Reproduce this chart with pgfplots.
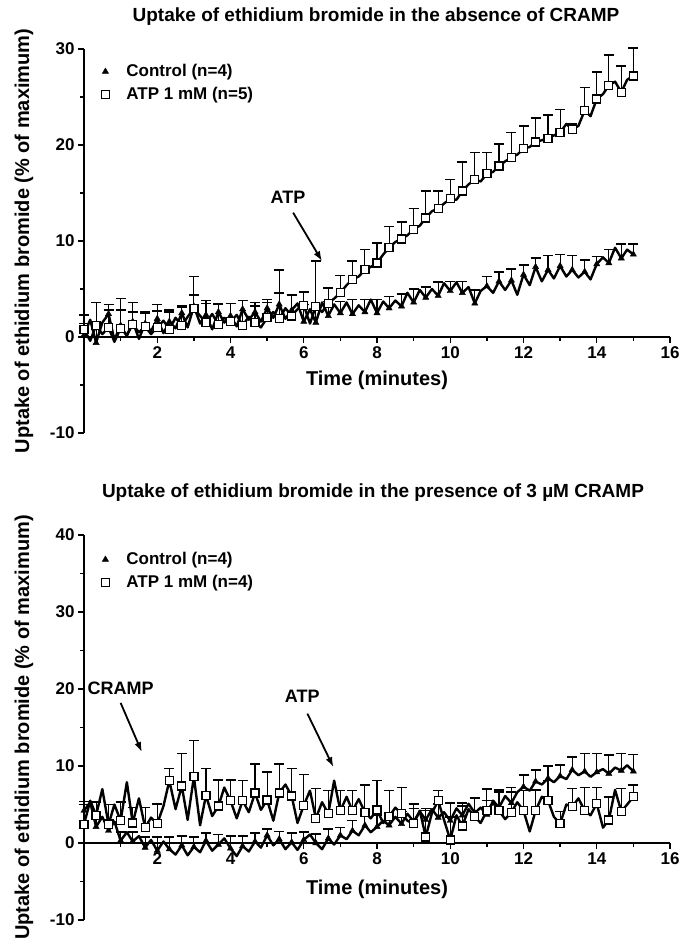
\documentclass[border=0pt]{standalone}
\usepackage{fontspec}
\setmainfont{Liberation Sans}
\usepackage{pgfplots}
\usepackage{pgfplotstable}
\pgfplotsset{compat=1.18}
\usetikzlibrary{arrows.meta}

\pgfplotstableread{
t v e
0.00 0.2 1.2
0.17 1.8 0
0.33 -0.6 1.8
0.50 1.5 0
0.67 2.4 1.0
0.83 -0.3 0
1.00 1.2 1.6
1.17 0.1 0
1.33 1.6 1.0
1.50 -0.2 0
1.67 1.4 1.2
1.83 0.6 0
2.00 1.9 0.8
2.17 0.4 0
2.33 1.6 1.0
2.50 0.9 0
2.67 2.5 0.8
2.83 1.0 0
3.00 3.2 1.2
3.17 1.4 0
3.33 2.3 1.2
3.50 0.8 0
3.67 2.6 0.8
3.83 1.5 0
4.00 2.2 1.3
4.17 1.1 0
4.33 2.9 0.9
4.50 1.8 0
4.67 2.6 1.0
4.83 1.6 0
5.00 3.0 0.9
5.17 2.0 0
5.33 3.4 1.2
5.50 1.9 0
5.67 2.8 1.6
5.83 3.5 0
6.00 1.6 1.8
6.17 2.9 0
6.33 1.5 1.4
6.50 3.6 0
6.67 2.2 1.5
6.83 3.4 0
7.00 2.5 1.2
7.17 3.6 0
7.33 2.4 1.5
7.50 3.3 0
7.67 2.6 1.3
7.83 3.9 0
8.00 2.5 1.4
8.17 3.7 0
8.33 3.0 1.2
8.50 3.8 0
8.67 3.2 1.3
8.83 4.6 0
9.00 3.6 1.4
9.17 4.9 0
9.33 4.1 1.1
9.50 5.0 0
9.67 4.3 1.4
9.83 5.6 0
10.00 4.8 1.0
10.17 5.7 0
10.33 4.6 1.2
10.50 5.2 0
10.67 3.5 1.4
10.83 4.8 0
11.00 5.3 1.0
11.17 4.6 0
11.33 5.8 1.0
11.50 4.9 0
11.67 5.9 1.2
11.83 4.4 0
12.00 6.5 1.0
12.17 5.4 0
12.33 7.3 0.9
12.50 5.8 0
12.67 7.0 1.5
12.83 6.1 0
13.00 7.4 1.2
13.17 6.3 0
13.33 7.0 1.5
13.50 6.2 0
13.67 6.8 1.2
13.83 6.0 0
14.00 7.6 0.8
14.17 8.3 0
14.33 7.7 1.4
14.50 9.3 0
14.67 8.2 1.5
14.83 9.1 0
15.00 8.6 1.1
}\topCtrl

\pgfplotstableread{
t v e
0.00 0.8 1.5
0.17 -0.4 0
0.33 1.2 2.4
0.50 0.3 0
0.67 1.0 1.8
0.83 -0.5 0
1.00 0.9 3.1
1.17 0.2 0
1.33 1.3 2.3
1.50 0.5 0
1.67 1.1 1.4
1.83 0.3 0
2.00 1.0 2.4
2.17 1.7 0
2.33 0.8 2.0
2.50 2.0 0
2.67 1.2 1.9
2.83 2.1 0
3.00 3.0 3.3
3.17 2.2 0
3.33 1.5 2.3
3.50 2.4 0
3.67 1.3 2.2
3.83 2.0 0
4.00 1.6 1.9
4.17 2.3 0
4.33 1.2 2.6
4.50 2.1 0
4.67 1.5 1.7
4.83 1.0 0
5.00 2.0 1.6
5.17 2.6 0
5.33 1.9 5.1
5.50 3.0 0
5.67 2.2 2.2
5.83 2.9 0
6.00 3.3 1.4
6.17 1.4 0
6.33 3.2 4.7
6.50 2.6 0
6.67 3.5 1.6
6.83 4.0 0
7.00 4.6 1.8
7.17 5.4 0
7.33 6.0 1.9
7.50 6.3 0
7.67 7.0 2.1
7.83 7.3 0
8.00 7.7 2.1
8.17 8.6 0
8.33 9.3 2.2
8.50 9.9 0
8.67 10.2 1.8
8.83 10.6 0
9.00 11.2 2.2
9.17 11.6 0
9.33 12.4 2.8
9.50 13.1 0
9.67 13.4 1.8
9.83 13.9 0
10.00 14.4 2.0
10.17 14.3 0
10.33 15.2 3.0
10.50 15.9 0
10.67 16.4 2.8
10.83 16.2 0
11.00 17.0 2.2
11.17 17.2 0
11.33 17.8 2.3
11.50 18.3 0
11.67 18.7 2.6
11.83 19.0 0
12.00 19.6 2.4
12.17 19.8 0
12.33 20.3 2.5
12.50 20.5 0
12.67 20.7 2.4
12.83 21.0 0
13.00 21.3 2.4
13.17 22.2 0
13.33 21.6 0.6
13.50 22.0 0
13.67 23.6 2.4
13.83 23.0 0
14.00 24.8 2.8
14.17 25.3 0
14.33 26.2 3.2
14.50 26.6 0
14.67 25.5 2.7
14.83 26.8 0
15.00 27.2 2.9
}\topATP

\pgfplotstableread{
t v e
0.00 4.2 1.2
0.17 5.3 0
0.33 2.1 1.5
0.50 3.4 0
0.67 1.6 1.4
0.83 2.8 0
1.00 0.3 1.1
1.17 1.4 0
1.33 0.2 1.2
1.50 0.9 0
1.67 -0.6 1.4
1.83 0.4 0
2.00 -1.0 1.8
2.17 0.2 0
2.33 -0.8 1.6
2.50 -1.5 0
2.67 -0.3 1.2
2.83 -1.6 0
3.00 -0.5 1.3
3.17 -1.2 0
3.33 0.3 1.0
3.50 -1.0 0
3.67 -0.2 1.3
3.83 0.6 0
4.00 -0.7 1.6
4.17 -1.7 0
4.33 -0.4 1.3
4.50 -1.1 0
4.67 0.2 1.1
4.83 -0.6 0
5.00 1.0 0.8
5.17 -0.3 0
5.33 0.5 1.0
5.50 -0.8 0
5.67 0.1 1.2
5.83 -0.9 0
6.00 0.4 1.0
6.17 1.1 0
6.33 0.0 1.2
6.50 -0.8 0
6.67 0.6 1.2
6.83 -0.2 0
7.00 1.0 1.0
7.17 0.5 0
7.33 1.6 1.3
7.50 1.0 0
7.67 2.3 1.2
7.83 1.4 0
8.00 2.1 1.5
8.17 2.9 0
8.33 2.3 1.4
8.50 3.4 0
8.67 2.5 1.6
8.83 3.8 0
9.00 2.8 1.7
9.17 4.1 0
9.33 3.0 1.5
9.50 4.4 0
9.67 3.3 1.8
9.83 4.0 0
10.00 2.9 2.3
10.17 4.5 0
10.33 3.6 1.6
10.50 5.1 0
10.67 3.9 2.0
10.83 4.6 0
11.00 3.7 1.8
11.17 5.5 0
11.33 4.6 2.0
11.50 6.1 0
11.67 5.2 2.0
11.83 6.6 0
12.00 7.3 1.5
12.17 6.8 0
12.33 8.0 1.5
12.50 7.6 0
12.67 8.4 1.6
12.83 7.9 0
13.00 8.7 1.4
13.17 8.3 0
13.33 9.5 1.7
13.50 8.8 0
13.67 9.3 2.3
13.83 8.6 0
14.00 9.2 2.4
14.17 9.6 0
14.33 9.0 2.4
14.50 9.8 0
14.67 9.4 2.2
14.83 10.1 0
15.00 9.3 2.2
}\botCtrl

\pgfplotstableread{
t v e
0.00 2.4 2.6
0.17 5.5 0
0.33 3.6 1.7
0.50 7.0 0
0.67 2.4 2.6
0.83 5.0 0
1.00 2.9 2.4
1.17 7.9 0
1.33 2.6 2.0
1.50 5.8 0
1.67 2.0 2.6
1.83 3.3 0
2.00 2.5 2.6
2.17 4.8 0
2.33 8.1 1.6
2.50 4.4 0
2.67 7.4 4.2
2.83 3.0 0
3.00 8.6 4.7
3.17 2.3 0
3.33 6.2 3.5
3.50 3.5 0
3.67 4.8 3.4
3.83 7.2 0
4.00 5.5 2.7
4.17 3.2 0
4.33 5.5 2.6
4.50 4.0 0
4.67 6.5 3.8
4.83 4.3 0
5.00 5.6 3.6
5.17 2.9 0
5.33 6.5 3.8
5.50 7.6 0
5.67 6.1 3.6
5.83 2.6 0
6.00 4.9 4.0
6.17 6.8 0
6.33 3.2 3.9
6.50 5.3 0
6.67 3.8 3.0
6.83 8.1 0
7.00 4.2 2.6
7.17 6.0 0
7.33 4.2 2.6
7.50 5.7 0
7.67 4.0 3.5
7.83 3.2 0
8.00 4.3 3.8
8.17 2.6 0
8.33 3.4 3.4
8.50 4.6 0
8.67 3.8 3.4
8.83 2.9 0
9.00 2.5 2.6
9.17 4.2 0
9.33 0.8 3.4
9.50 3.9 0
9.67 5.5 1.3
9.83 3.0 0
10.00 0.4 3.0
10.17 3.6 0
10.33 2.2 2.6
10.50 4.4 0
10.67 3.4 2.4
10.83 2.6 0
11.00 4.2 2.8
11.17 5.2 0
11.33 4.2 2.7
11.50 3.1 0
11.67 4.0 2.6
11.83 5.3 0
12.00 4.2 2.6
12.17 1.5 0
12.33 4.2 2.7
12.50 6.0 0
12.67 5.5 2.6
12.83 3.4 0
13.00 2.5 1.6
13.17 5.0 0
13.33 4.7 2.4
13.50 5.8 0
13.67 4.2 3.0
13.83 3.6 0
14.00 5.1 2.1
14.17 2.0 0
14.33 3.0 3.0
14.50 6.9 0
14.67 4.1 3.0
14.83 5.0 0
15.00 6.0 1.5
}\botATP

\pgfplotsset{
  myaxis/.style={
    scale only axis, width=586pt,
    xmin=0, xmax=16, enlargelimits=false,
    axis x line=middle, axis y line=left,
    axis line style={-, line width=1.6pt},
    xtick={2,4,...,16}, minor xtick={1,3,...,15},
    tick align=outside,
    major tick length=6pt, minor tick length=4pt,
    tick style={black, line width=1.4pt},
    hide obscured x ticks=false, hide obscured y ticks=false,
    tick label style={font=\bfseries\fontsize{17}{20}\selectfont},
    /pgf/number format/assume math mode=true,
    xlabel={Time (minutes)},
    ylabel={Uptake of ethidium bromide (\% of maximum)},
    label style={font=\bfseries\fontsize{20}{24}\selectfont},
    ylabel style={at={(axis description cs:-0.1024,0.5)}, anchor=center},
    legend style={draw=none, fill=none, anchor=north west, inner sep=0pt,
      row sep=5pt, font=\bfseries\fontsize{17}{20}\selectfont,
      /tikz/every odd column/.append style={column sep=15pt}},
    legend cell align=left,
    clip=false,
  },
  ctrlline/.style={black, line width=2.4pt, line join=round, forget plot},
  ctrlmarks/.style={only marks, mark=triangle*, mark size=3.6pt, black,
    each nth point=2,
    error bars/.cd, y dir=plus, y explicit,
    error bar style={line width=1.1pt, black},
    error mark options={rotate=90, mark size=5pt, line width=1.6pt, black}},
  atpmarks/.style={only marks, mark=square*, mark size=4pt,
    mark options={fill=white, draw=black, line width=1.3pt}, black,
    each nth point=2,
    error bars/.cd, y dir=plus, y explicit,
    error bar style={line width=1.1pt, black},
    error mark options={rotate=90, mark size=5pt, line width=1.6pt, black}},
}

\begin{document}
\begin{tikzpicture}
\path[use as bounding box] (0pt,0pt) rectangle (687pt,-945pt);

\node[font=\bfseries\fontsize{19}{23}\selectfont] at (376pt,-17pt)
  {Uptake of ethidium bromide in the absence of CRAMP};

\begin{axis}[myaxis,
  at={(84pt,-433pt)}, anchor=south west, height=384pt,
  ymin=-10, ymax=30, ytick={-10,0,...,30}, minor ytick={-5,5,15,25},
  xlabel style={at={(axis cs:8,0)}, anchor=center, yshift=-43.5pt},
  legend style={at={(axis cs:0.47,28.6)}},
]
\addplot[ctrlline] table[x=t,y=v] {\topCtrl};
\addplot[ctrlline] table[x=t,y=v] {\topATP};
\addplot[ctrlmarks] table[x=t,y=v,y error=e] {\topCtrl};
\addlegendentry{Control (n=4)}
\addplot[atpmarks] table[x=t,y=v,y error=e] {\topATP};
\addlegendentry{ATP 1 mM (n=5)}
\node[font=\bfseries\fontsize{18}{22}\selectfont] at (axis cs:5.57,14.5) {ATP};
\draw[-{Latex[length=10pt,width=7pt]}, line width=1.8pt] (axis cs:5.71,12.95) -- (axis cs:6.5,7.9);
\end{axis}

\node[font=\bfseries\fontsize{19}{23}\selectfont] at (373pt,-493pt)
  {Uptake of ethidium bromide in the presence of 3 µM CRAMP};

\begin{axis}[myaxis,
  at={(84pt,-920pt)}, anchor=south west, height=385pt,
  ymin=-10, ymax=40, ytick={-10,0,...,40}, minor ytick={-5,5,...,35},
  xlabel style={at={(axis cs:8,0)}, anchor=center, yshift=-46pt},
  legend style={at={(axis cs:0.47,38.0)}},
]
\addplot[ctrlline] table[x=t,y=v] {\botCtrl};
\addplot[ctrlline] table[x=t,y=v] {\botATP};
\addplot[ctrlmarks] table[x=t,y=v,y error=e] {\botCtrl};
\addlegendentry{Control (n=4)}
\addplot[atpmarks] table[x=t,y=v,y error=e] {\botATP};
\addlegendentry{ATP 1 mM (n=4)}
\node[font=\bfseries\fontsize{18}{22}\selectfont] at (axis cs:1.0,20.1) {CRAMP};
\draw[-{Latex[length=10pt,width=7pt]}, line width=1.8pt] (axis cs:1.0,18.2) -- (axis cs:1.58,11.8);
\node[font=\bfseries\fontsize{18}{22}\selectfont] at (axis cs:5.96,19.0) {ATP};
\draw[-{Latex[length=10pt,width=7pt]}, line width=1.8pt] (axis cs:6.1,16.8) -- (axis cs:6.81,9.85);
\end{axis}
\end{tikzpicture}
\end{document}
